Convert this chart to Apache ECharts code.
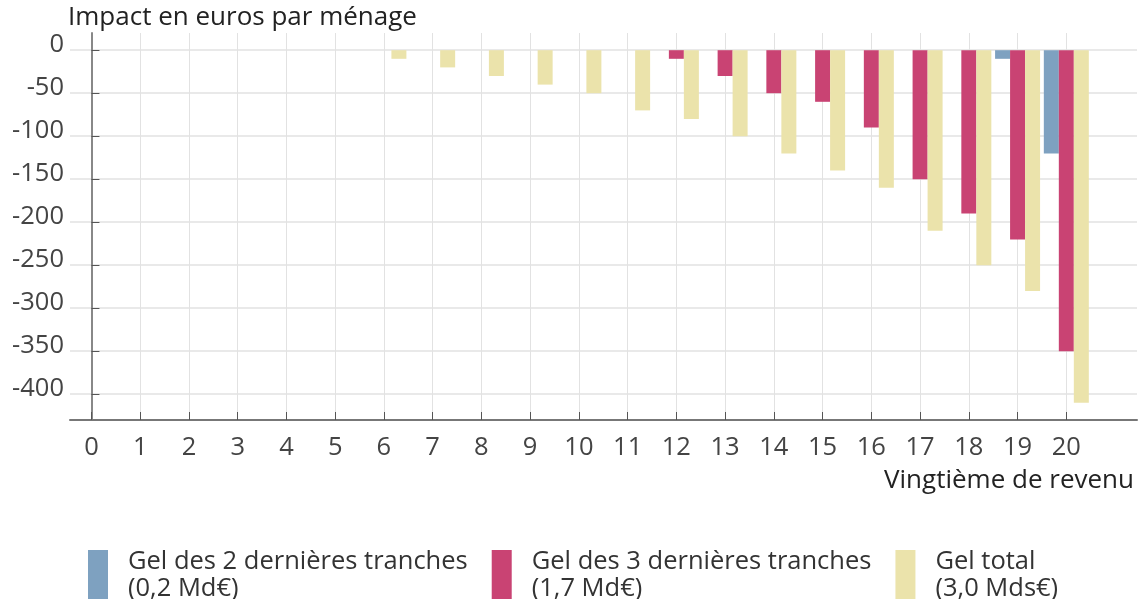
<!DOCTYPE html>
<html>
<head>
<meta charset="utf-8">
<script src="https://cdn.jsdelivr.net/npm/echarts@6/dist/echarts.min.js"></script>
<style>
html, body { margin: 0; padding: 0; background: #fff; }
#main { width: 1139px; height: 599px; }
</style>
</head>
<body>
<div id="main"></div>
<script>
// vingtièmes de revenu (axe x)
var vingtiemes = [0, 1, 2, 3, 4, 5, 6, 7, 8, 9, 10, 11, 12, 13, 14, 15, 16, 17, 18, 19, 20];
// impact en euros par ménage
var gel2Tranches = [0, 0, 0, 0, 0, 0, 0, 0, 0, 0, 0, 0, 0, 0, 0, 0, 0, 0, 0, -10, -120];
var gel3Tranches = [0, 0, 0, 0, 0, 0, 0, 0, 0, 0, 0, 0, -10, -30, -50, -60, -90, -150, -190, -220, -350];
var gelTotal = [0, 0, 0, 0, 0, 0, -10, -20, -30, -40, -50, -70, -80, -100, -120, -140, -160, -210, -250, -280, -410];
var yTicks = [0, -50, -100, -150, -200, -250, -300, -350, -400];
var seriesNames = ['Gel des 2 dernières tranches\n(0,2 Md€)', 'Gel des 3 dernières tranches\n(1,7 Md€)', 'Gel total\n(3,0 Mds€)'];
var couleurs = ['#7ea1c0', '#c94373', '#ebe3ab'];

function paires(vals) {
    return vingtiemes.map(function (x, i) { return [x, vals[i]]; });
}

var myChart = echarts.init(document.getElementById('main'));
var font = '"Open Sans", "Noto Sans", sans-serif';

var option = {
    animation: false,
    textStyle: { fontFamily: font },
    title: [
        {
            text: 'Impact en euros par ménage',
            left: 63, top: 0,
            textStyle: { fontSize: 26, fontWeight: 'normal', color: '#222', fontFamily: font }
        },
        {
            text: 'Vingtième de revenu',
            right: 0, top: 463,
            textStyle: { fontSize: 26, fontWeight: 'normal', color: '#222', fontFamily: font }
        }
    ],
    legend: {
        left: 88, top: 548, padding: 0,
        itemWidth: 20, itemHeight: 50, itemGap: 24,
        icon: 'rect',
        data: seriesNames,
        textStyle: { fontSize: 25.5, color: '#333', lineHeight: 27, padding: [0, 0, 0, 15], fontFamily: font }
    },
    grid: { left: 70, right: 2, top: 33, bottom: 179, containLabel: false },
    xAxis: {
        type: 'value',
        min: -0.44, max: 21.45,
        axisLine: { show: true, onZero: false, lineStyle: { color: '#777', width: 2 } },
        axisTick: { show: true, inside: true, length: 8, customValues: vingtiemes, lineStyle: { color: '#555' } },
        axisLabel: { customValues: vingtiemes, fontSize: 25.5, color: '#444', margin: 15, fontFamily: font },
        splitLine: { show: true, lineStyle: { color: '#e2e2e2', width: 1 } }
    },
    yAxis: {
        type: 'value',
        min: -430, max: 20,
        axisLine: { show: true, lineStyle: { color: '#888', width: 2 } },
        axisTick: { show: true, inside: true, length: 8, customValues: yTicks, lineStyle: { color: '#555' } },
        axisLabel: { customValues: yTicks, fontSize: 25.5, color: '#444', margin: 6, verticalAlign: 'bottom', lineHeight: 10, fontFamily: font },
        splitLine: { show: true, lineStyle: { color: '#e2e2e2', width: 1.5 } }
    },
    series: [
        { name: seriesNames[0], type: 'bar', data: paires(gel2Tranches), barWidth: 15, barGap: '0%', itemStyle: { color: couleurs[0] } },
        { name: seriesNames[1], type: 'bar', data: paires(gel3Tranches), barWidth: 15, barGap: '0%', itemStyle: { color: couleurs[1] } },
        { name: seriesNames[2], type: 'bar', data: paires(gelTotal), barWidth: 15, barGap: '0%', itemStyle: { color: couleurs[2] } }
    ]
};
myChart.setOption(option);
</script>
</body>
</html>
